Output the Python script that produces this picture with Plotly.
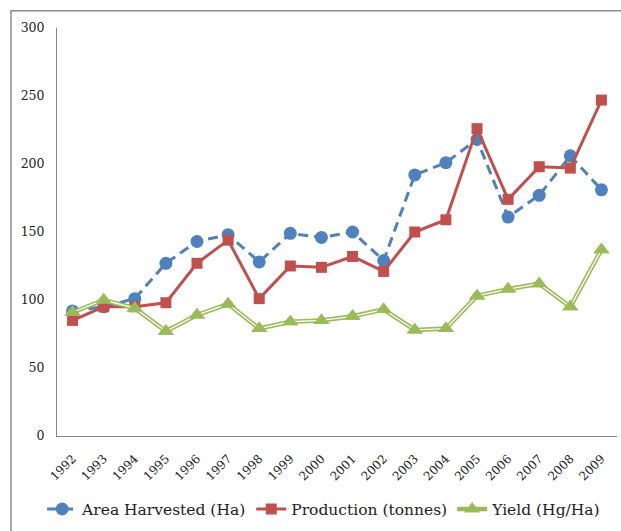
import plotly.graph_objects as go

years = [str(y) for y in range(1992, 2010)]
area_harvested = [92, 95, 101, 127, 143, 148, 128, 149, 146, 150, 129, 192, 201, 218, 161, 177, 206, 181]
production = [85, 95, 95, 98, 127, 144, 101, 125, 124, 132, 121, 150, 159, 226, 174, 198, 197, 247]
yield_vals = [91, 100, 94, 77, 89, 97, 79, 84, 85, 88, 93, 78, 79, 103, 108, 112, 95, 137]

BLUE = "#4F81BD"
RED = "#C0504D"
GREEN = "#9BBB59"
FONT = "DejaVu Serif"

fig = go.Figure()
fig.add_trace(go.Scatter(
    x=years, y=area_harvested, name="Area Harvested (Ha)", mode="lines+markers",
    line=dict(color=BLUE, width=3, dash="10px,6px"),
    marker=dict(symbol="circle", size=13, color=BLUE)))
fig.add_trace(go.Scatter(
    x=years, y=production, name="Production (tonnes)", mode="lines+markers",
    line=dict(color=RED, width=3),
    marker=dict(symbol="square", size=11, color=RED)))
fig.add_trace(go.Scatter(
    x=years, y=yield_vals, name="Yield (Hg/Ha)", mode="lines+markers",
    line=dict(color=GREEN, width=4.5),
    marker=dict(symbol="triangle-up", size=14, color=GREEN)))
fig.add_trace(go.Scatter(
    x=years, y=yield_vals, mode="lines", showlegend=False, hoverinfo="skip",
    line=dict(color="white", width=1.3)))
fig.add_trace(go.Scatter(
    x=years, y=yield_vals, mode="markers", showlegend=False, hoverinfo="skip",
    marker=dict(symbol="triangle-up", size=14, color=GREEN)))

fig.update_layout(
    width=621, height=531,
    margin=dict(l=57, r=4, t=28, b=93),
    paper_bgcolor="white", plot_bgcolor="white",
    font=dict(family=FONT, color="#222222", size=12),
    showlegend=True,
    legend=dict(orientation="h", x=0.477, xanchor="center", y=-0.18, yanchor="middle",
                font=dict(family=FONT, size=15.5, color="#222222"),
                itemwidth=30, tracegroupgap=0),
    xaxis=dict(type="category", range=[-0.5, 17.5], showgrid=False, showline=True,
               linecolor="#868686", linewidth=1, ticks="", tickangle=-45,
               tickfont=dict(family=FONT, size=12), zeroline=False, automargin=False,
               ticklabelstandoff=10),
    yaxis=dict(range=[0, 300], dtick=50, showgrid=False, showline=True,
               linecolor="#868686", linewidth=1, ticks="", zeroline=False,
               tickfont=dict(family=FONT, size=12.5), automargin=False,
               ticklabelstandoff=9),
    shapes=[dict(type="rect", xref="paper", yref="paper",
                 x0=(11 - 57) / 560, x1=1.1, y0=-0.4, y1=(438 - 10.7) / 410,
                 line=dict(color="#8C8C8C", width=1.5), fillcolor="rgba(0,0,0,0)",
                 layer="below")],
)

fig.write_html("out.html", config={"displayModeBar": False},
               post_script="document.body.style.margin='0px';document.body.style.overflow='hidden';")
